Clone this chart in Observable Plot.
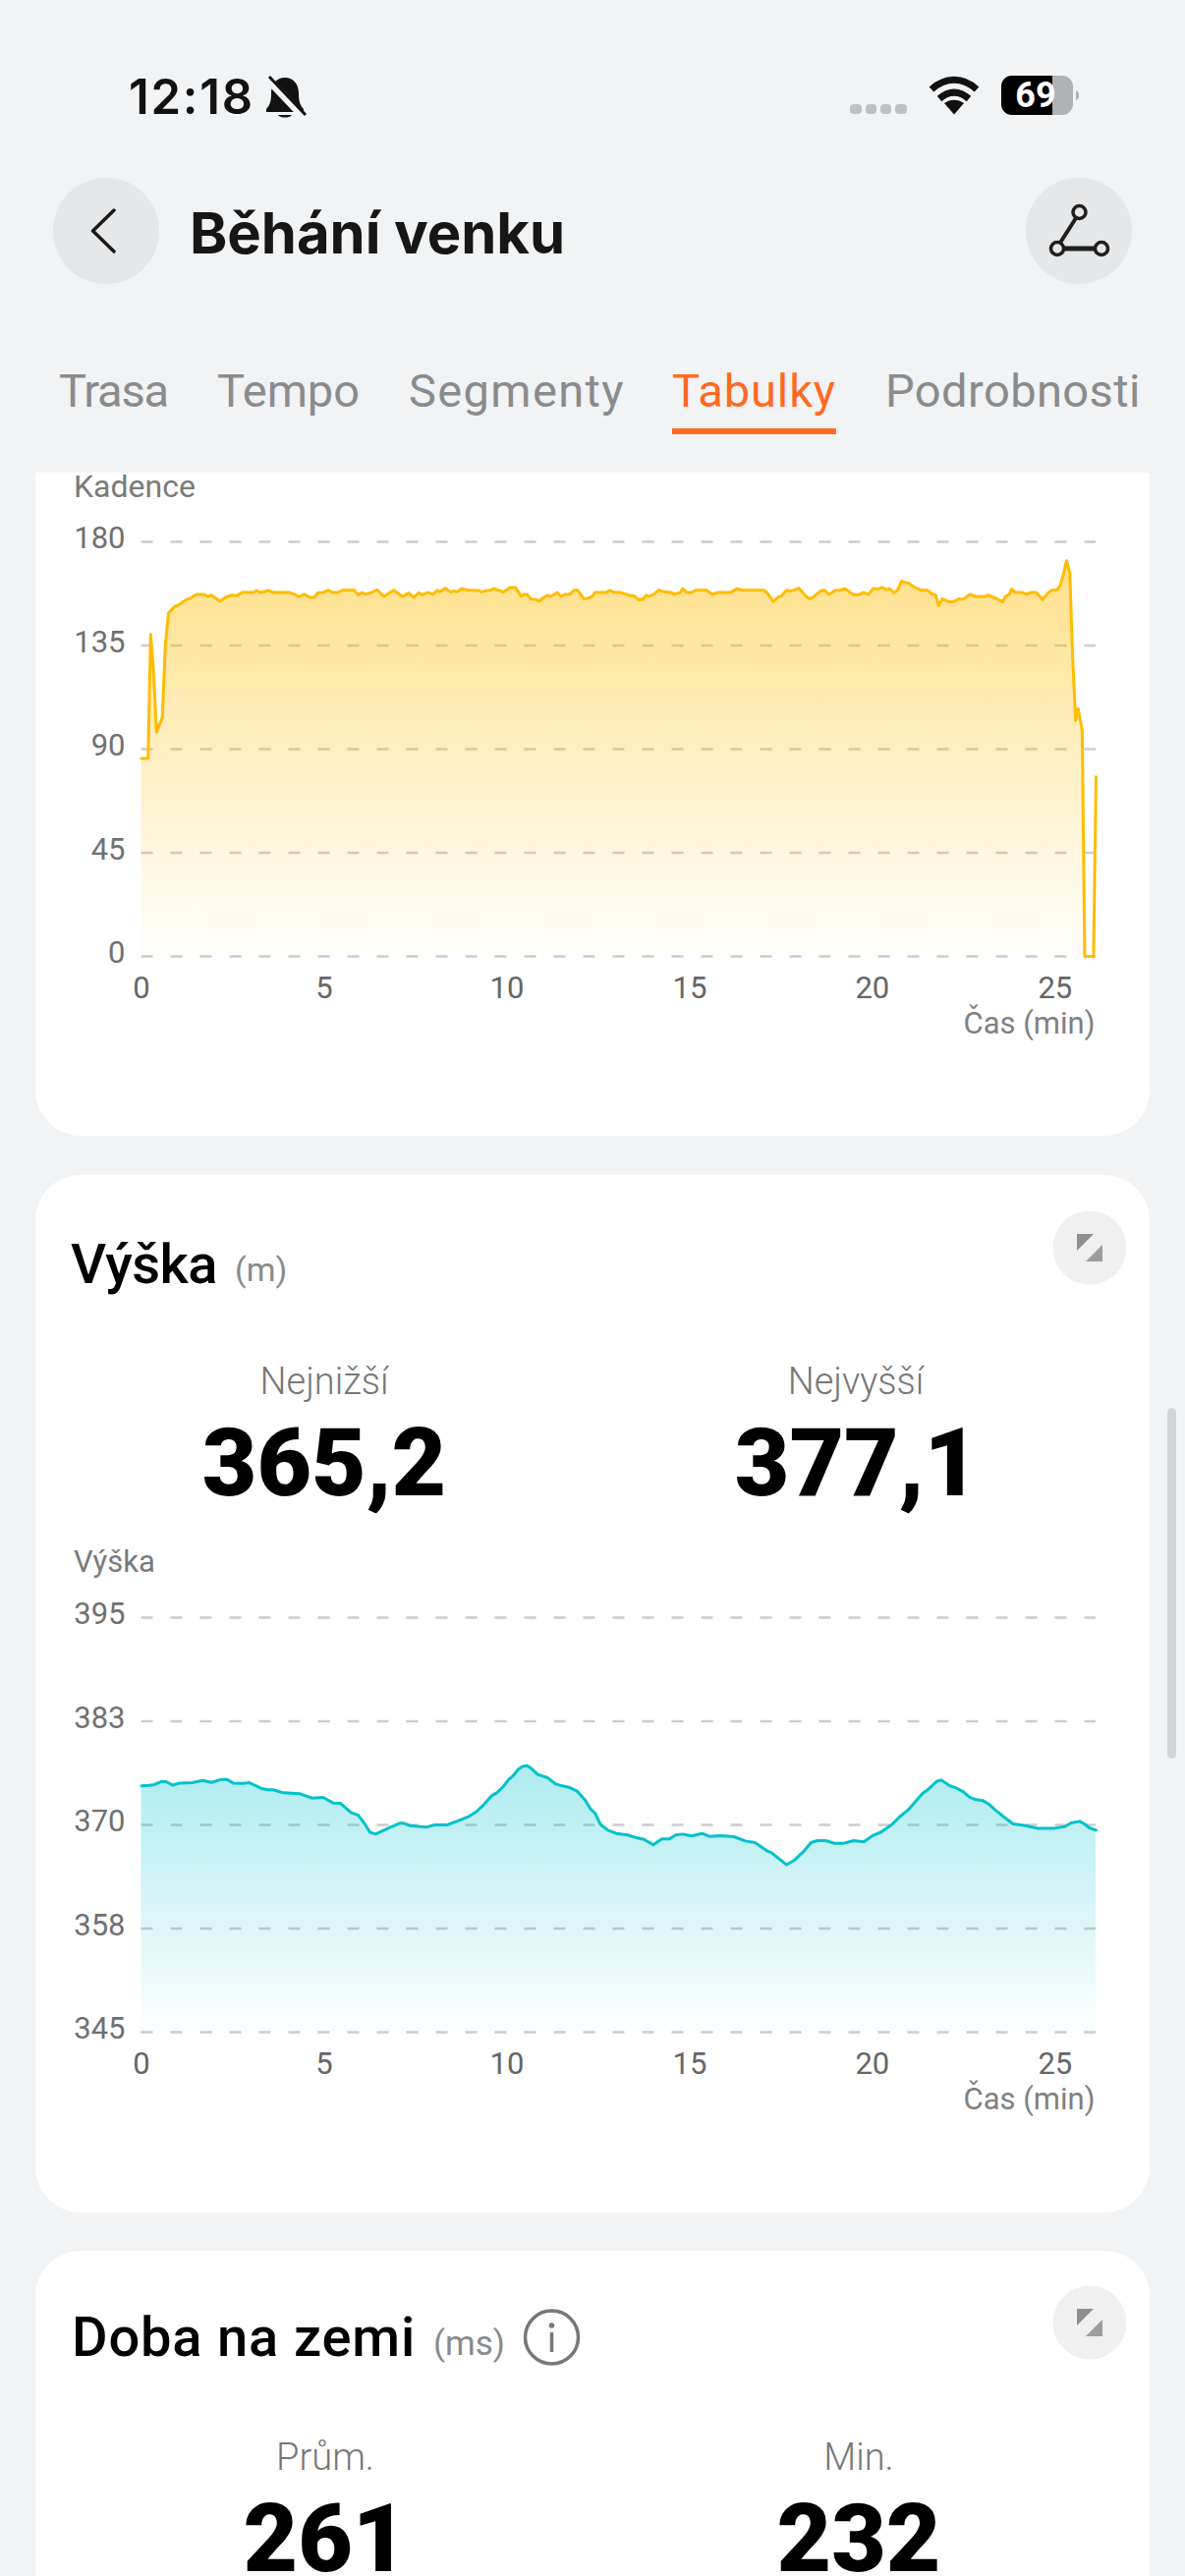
<!DOCTYPE html>
<html lang="cs">
<head>
<meta charset="utf-8">
<script src="https://cdn.jsdelivr.net/npm/d3@7"></script>
<script src="https://cdn.jsdelivr.net/npm/@observablehq/plot@0.6"></script>
<style>
html,body{margin:0;padding:0;background:#F1F3F5;}
#page{position:relative;width:1206px;height:2622px;overflow:hidden;background:#F1F3F5;font-family:Roboto,sans-serif;}
.card{position:absolute;left:36px;width:1134px;background:#fff;}
.t{position:absolute;line-height:0;white-space:nowrap;}
.plot{position:absolute;left:0;}
.ico{position:absolute;left:0;top:0;pointer-events:none;}
</style>
</head>
<body>
<div id="page"></div>
<script>
// ---------- data ----------
const cadenceMinutes = [0,0.18,0.25,0.33,0.41,0.57,0.65,0.74,0.91,1.07,1.23,1.34,1.5,1.72,1.81,1.91,2.15,2.31,2.46,2.59,2.76,3.06,3.15,3.26,3.49,3.6,4.05,4.16,4.31,4.46,4.61,4.73,4.83,4.97,5.1,5.24,5.37,5.51,5.82,5.93,6.03,6.13,6.29,6.45,6.63,6.9,7.15,7.31,7.45,7.58,7.68,7.84,7.99,8.08,8.17,8.31,8.46,8.55,8.64,8.76,8.96,9.23,9.31,9.45,9.54,9.65,9.9,10.08,10.23,10.39,10.48,10.55,10.66,10.79,10.88,11.02,11.12,11.21,11.38,11.48,11.6,11.72,11.84,11.93,12.11,12.23,12.33,12.41,12.72,12.81,12.94,13.12,13.35,13.48,13.6,13.71,13.81,13.88,14.02,14.15,14.33,14.51,14.56,14.74,14.81,14.92,15.05,15.16,15.45,15.63,15.77,16.12,16.3,16.44,17.02,17.11,17.29,17.42,17.51,17.65,17.78,17.99,18.19,18.31,18.59,18.69,18.8,19,19.13,19.24,19.49,19.63,19.75,19.89,20.02,20.16,20.26,20.38,20.47,20.59,20.69,20.8,21.01,21.14,21.32,21.5,21.64,21.73,21.81,21.91,22.09,22.22,22.36,22.5,22.67,22.84,23.08,23.17,23.57,23.64,23.75,23.81,23.91,24.1,24.22,24.32,24.48,24.66,24.82,24.92,25.05,25.14,25.23,25.31,25.4,25.48,25.56,25.63,25.74,25.81,26.05,26.12];
const cadenceValues = [86,86,139.8,124,97.3,103.7,134.5,149.1,151.9,153.1,155,155.5,157.2,157.2,156.3,156.9,154.2,155.9,156.9,156.6,158,158,158.9,158,158.9,158,158,157.3,156.2,157.2,155.9,155.9,157.9,158,159,158,158,159,159,157,157.9,157.2,158,159.2,156.2,159,156.2,157.8,155.8,157.8,157,158,157.2,158.9,158.3,159.9,158.2,158.7,158.3,159.6,159,158.9,158.2,158.9,158.9,159.7,158.2,160.2,160.2,156.3,157.2,157.2,155.2,155,154.2,156,156.8,156.3,157.9,156.3,157.2,157.2,159,159,155.2,155.6,156.2,158,158,158.9,158,158,156.8,156.5,154.9,154.9,156.8,156.3,157.2,159,158.2,157.9,157.2,157.9,159.7,158,158,159,159,157.2,158,158,159.7,159,159,158,154,156,156.5,159,158.6,159.9,156.2,155.2,158.7,159,157.2,159,159,159.7,157,157,158,157.2,159.7,159.5,160.2,159.3,159.6,157.9,159,162.9,161.9,160.3,159,159,157.3,156.9,152.3,155.2,154,154,155.2,155.2,157.2,156.2,156.2,156.9,154,156.2,157.3,159.5,158,158,157.2,158,158,155,158,159,159,161.2,166.1,171.8,166.7,129.7,102.4,107.5,98.2,0,0,78];

const heightMinutes = [0,0.22,0.35,0.53,0.67,0.86,1.03,1.39,1.67,1.92,2.19,2.33,2.51,2.77,2.95,3.27,3.45,3.6,3.89,4.34,4.66,4.97,5.24,5.44,5.73,5.93,6.09,6.25,6.4,6.81,7.07,7.18,7.34,7.79,8.02,8.37,8.55,8.76,8.96,9.15,9.36,9.57,9.72,9.9,10.05,10.16,10.32,10.44,10.55,10.66,10.84,11.11,11.33,11.51,11.69,11.91,12.14,12.29,12.41,12.56,12.76,12.99,13.3,13.57,13.75,14,14.24,14.44,14.62,14.8,15.05,15.34,15.54,15.85,16.21,16.52,16.79,17.11,17.24,17.65,17.85,18.1,18.32,18.5,18.72,18.95,19.22,19.49,19.76,20.02,20.25,20.52,20.74,20.98,21.19,21.37,21.5,21.77,21.88,22.11,22.31,22.49,22.65,22.83,23.03,23.2,23.38,23.61,23.85,24.19,24.5,24.99,25.26,25.44,25.67,25.8,25.94,26.12];
const heightValues = [374.7,374.78,374.86,375.21,375.21,374.78,375.05,375.09,375.37,375.13,375.49,375.49,375.05,375.02,375.09,374.42,374.23,374.23,373.87,373.75,373.24,373.32,372.65,372.61,371.5,371.18,370.24,369.13,368.89,369.72,370.2,370.2,369.92,369.72,370,370,370.32,370.67,371.03,371.54,372.41,373.48,373.87,374.62,375.49,375.88,376.75,377.07,377.15,376.83,376.08,375.69,374.94,374.7,374.54,374.11,373,371.9,371.42,370.04,369.37,368.97,368.78,368.42,368.26,367.59,368.3,368.3,368.78,368.89,368.66,368.97,368.62,368.7,368.58,368.06,367.87,366.88,366.64,365.2,365.7,366.72,367.87,368.1,368.1,367.79,367.79,368.1,367.95,368.74,369.17,370,370.95,371.82,372.88,373.79,374.19,375.29,375.41,374.74,374.42,373.99,373.36,373.04,372.92,372.45,371.74,370.91,370.12,369.92,369.6,369.6,369.8,370.24,370.43,370.12,369.64,369.37];

const timeTicks = [0,5,10,15,20,25];
const cadenceTicks = [0,45,90,135,180];
const heightTicks = [345,357.5,370,382.5,395];
const tabs = ["Trasa","Tempo","Segmenty","Tabulky","Podrobnosti"];
const lowest = "365,2", highest = "377,1", avgGround = "261", minGround = "232";

// ---------- page furniture ----------
const page = document.getElementById("page");
function el(html){const w=document.createElement("div");w.innerHTML=html;const n=w.firstElementChild;page.appendChild(n);return n;}
function card(top,h,r){el(`<div class="card" style="top:${top}px;height:${h}px;border-radius:${r}"></div>`);}
function txt(s,x,base,size,weight,color,anchor="l",font="Roboto",fit=0){
  const tr=anchor==="c"?"translateX(-50%)":anchor==="r"?"translateX(-100%)":"none";
  const n=el(`<div class="t" style="left:${x}px;top:${base-0.34*size}px;font:${weight} ${size}px ${font},sans-serif;line-height:0;color:${color};transform:${tr};">${s}</div>`);
  if(fit){const w=n.getBoundingClientRect().width;n.style.letterSpacing=((fit-w)/[...s].length)+"px";}
  return n;
}
function icon(inner){el(`<svg class="ico" width="1206" height="2622" viewBox="0 0 1206 2622" aria-hidden="true">${inner}</svg>`);}

card(481,675,"0 0 46px 46px");
card(1196,1056,"46px");
card(2291,400,"46px 46px 0 0");

// status bar
txt("12:18",131,115.5,49,600,"#111","l","Inter",128);
icon(`
<path d="M290 79c-9 0-14 7-14 16 0 9-2 13-5 16v3h38v-3c-3-3-5-7-5-16 0-9-5-16-14-16z" fill="#111"/>
<path d="M283 117a8 5 0 0 0 14 0z" fill="#111"/>
<path d="M272 80 L309 119" stroke="#F1F3F5" stroke-width="8"/>
<path d="M274 78 L311 117" stroke="#111" stroke-width="3"/>
<g fill="#BFC0C2"><rect x="865" y="106" width="12" height="10" rx="4"/><rect x="881" y="106" width="11" height="10" rx="4"/><rect x="896" y="106" width="11" height="10" rx="4"/><rect x="911" y="106" width="12" height="10" rx="4"/></g>
<g fill="none" stroke="#111" stroke-width="7"><path d="M948 91c14-13 32-13 46 0"/><path d="M956 100.500c10-8.500 20-8.500 30 0"/></g>
<path d="M971 116.500 L961 105 C967 100.500 975 100.500 981 105 Z" fill="#111"/>
<rect x="1019" y="77" width="73" height="40" rx="11" fill="#B0B1B3"/>
<path d="M1030 77 H1071 V117 H1030 A11 11 0 0 1 1019 106 V88 A11 11 0 0 1 1030 77 Z" fill="#000"/>
<path d="M1095 92 a6 5 0 0 1 3 5 a6 5 0 0 1 -3 5 z" fill="#B0B1B3"/>
`);
txt("69",1054,109.5,36,700,"#fff","c","Roboto");

// header
icon(`
<circle cx="108" cy="235" r="54" fill="#E6E7E9"/>
<path d="M116 214 L94.500 235 L116 256" fill="none" stroke="#1a1a1a" stroke-width="3.500" stroke-linecap="round" stroke-linejoin="round"/>
<circle cx="1098" cy="235" r="54" fill="#E6E7E9"/>
<g fill="none" stroke="#1f1f1f" stroke-width="3.500"><circle cx="1098.500" cy="216" r="6.500"/><circle cx="1076" cy="253" r="6.500"/><circle cx="1121" cy="253" r="6.500"/><path d="M1095 222 L1079 247" stroke-width="4"/><path d="M1083 253 H1114" stroke-width="5"/></g>
`);
txt("Běhání venku",193,257,58,700,"#161616","l","Inter",382);

// tabs
const tabX=[60,221,416,684,901];
const tabW=[111,145,220,167,260];
tabs.forEach((s,i)=>txt(s,tabX[i],414,47,400,i===3?"#FF6A22":"#8A8B8C","l","Roboto",tabW[i]));
el(`<div style="position:absolute;left:684px;top:436px;width:167px;height:6px;background:#FF6A22"></div>`);

// scroll bar
el(`<div style="position:absolute;left:1188px;top:1433px;width:9px;height:357px;border-radius:5px;background:#D4D5D7"></div>`);

// card text
txt("Kadence",75,506,32,400,"#7a7a7a");
txt("Výška",72,1306,56,500,"#000","l","Roboto",149);
txt("(m)",239,1304,34,400,"#8a8a8a");
txt("Nejnižší",330,1419,38,300,"#777","c");
txt("Nejvyšší",871,1419,38,300,"#777","c");
txt(lowest,330,1522,96,900,"#000","c");
txt(highest,872,1522,96,900,"#000","c");
txt("Výška",75,1601,31,400,"#7a7a7a");
txt("Doba na zemi",73,2398,56,500,"#000","l","Roboto",350);
txt("(ms)",441,2398,35,400,"#8a8a8a");
txt("Prům.",331,2514,38,300,"#777","c");
txt("Min.",874,2514,38,300,"#777","c");
txt(avgGround,331,2617,96,900,"#000","c");
txt(minGround,874,2617,96,900,"#000","c");

function expand(cy){return `<circle cx="1109" cy="${cy}" r="37.500" fill="#F0F0F0"/>
<path d="M1096 ${cy-14} H1113 L1096 ${cy+3} Z" fill="#8f8f8f"/><path d="M1122 ${cy-3} V${cy+14} H1105 Z" fill="#9c9c9c"/>`;}
icon(expand(1270)+expand(2364)+`
<circle cx="561.500" cy="2379" r="27" fill="none" stroke="#777" stroke-width="3.500"/>
<circle cx="561.500" cy="2367" r="2.800" fill="#777"/><path d="M561.500 2374 V2394" stroke="#777" stroke-width="3.500"/>`);

// ---------- charts ----------
const cadence = cadenceMinutes.map((t,i)=>({t,v:cadenceValues[i]}));
const height = heightMinutes.map((t,i)=>({t,v:heightValues[i]}));

function gradient(id,rgb,a0,a1){
  return () => {
    const d=d3.create("svg:defs");
    const g=d.append("linearGradient").attr("id",id).attr("x1",0).attr("y1",0).attr("x2",0).attr("y2",1);
    g.append("stop").attr("offset","0%").attr("stop-color",rgb).attr("stop-opacity",a0);
    g.append("stop").attr("offset","100%").attr("stop-color",rgb).attr("stop-opacity",a1);
    return d.node();
  };
}

function chart({data,domain,ticks,base,line,id,rgb,a0,a1,top}){
  const chartEl = Plot.plot({
    width:1206, height:560,
    marginLeft:143.5, marginRight:91, marginTop:30, marginBottom:108,
    style:{background:"transparent",fontFamily:"Roboto,sans-serif",fontSize:"31px",overflow:"visible"},
    x:{domain:[0,26.12],label:null},
    y:{domain,label:null},
    marks:[
      gradient(id,rgb,a0,a1),
      Plot.ruleY(ticks,{stroke:"#CCCCCC",strokeWidth:2.4,strokeDasharray:"12 18"}),
      Plot.areaY(data,{x:"t",y1:()=>base,y2:"v",fill:`url(#${id})`}),
      Plot.lineY(data,{x:"t",y:"v",stroke:line,strokeWidth:3,strokeLinejoin:"round"}),
      Plot.axisY({ticks,tickSize:0,tickPadding:16.5,dy:-3,fontSize:31,color:"#707070",label:null,tickFormat:d=>String(Math.round(d))}),
      Plot.axisX({ticks:timeTicks,tickSize:0,tickPadding:20,fontSize:31,color:"#666666",label:null}),
      Plot.text(["Čas (min)"],{frameAnchor:"bottom-right",dy:78,dx:-1,textAnchor:"end",fontSize:31,fill:"#808080"})
    ]
  });
  chartEl.setAttribute("class",(chartEl.getAttribute("class")||"")+" plot");
  chartEl.style.position="absolute";chartEl.style.left="0";chartEl.style.top=top+"px";
  page.appendChild(chartEl);
}

chart({data:cadence,domain:[0,180],ticks:cadenceTicks,base:0,line:"#FFBC00",id:"gradCadence",rgb:"#FFBC00",a0:0.46,a1:0.01,top:521});
chart({data:height,domain:[345,395],ticks:heightTicks,base:345,line:"#00C2CC",id:"gradHeight",rgb:"#00C2CC",a0:0.32,a1:0.01,top:1616});
</script>
</body>
</html>
